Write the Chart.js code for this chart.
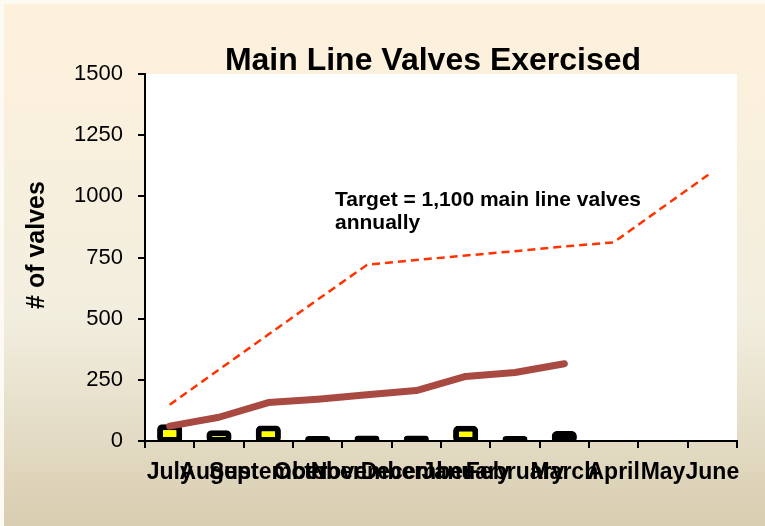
<!DOCTYPE html>
<html>
<head>
<meta charset="utf-8">
<script src="https://cdn.jsdelivr.net/npm/chart.js@4.4.0/dist/chart.umd.min.js"></script>
<style>
  html, body { margin: 0; padding: 0; background: #fdfaf3; }
  #wrap { position: absolute; left: 4px; top: 4px; width: 761px; height: 522px; }
</style>
</head>
<body>
<div id="wrap"><canvas id="valvesChart"></canvas></div>
<script>
/* ── DATA ─────────────────────────────────────────────────────── */
const months = ['July', 'August', 'September', 'October', 'November', 'December',
                'January', 'February', 'March', 'April', 'May', 'June'];
const monthlyExercised    = [68, 44, 63, 20, 22, 22, 62, 20, 41, null, null, null];
const cumulativeExercised = [61, 97, 157, 171, 189, 206, 264, 280, 316, null, null, null];
const targetCumulative    = [148, 292, 435, 578, 720, 740, 758, 776, 795, 812, 956, 1100];
const yMin = 0, yMax = 1500, yStep = 250;

const chartTitle = 'Main Line Valves Exercised';
const yTitle = '# of valves';
const noteLines = ['Target = 1,100 main line valves', 'annually'];

const FONT = "'Liberation Sans', Arial, sans-serif";

/* ── BACKGROUND, TITLES, NOTE ─────────────────────────────────── */
const slideDecor = {
  id: 'slideDecor',
  beforeDraw(chart) {
    const { ctx, chartArea: a, width, height } = chart;
    const g = ctx.createLinearGradient(0, 0, 0, height);
    g.addColorStop(0, '#fef1dc');
    g.addColorStop(0.6, '#f2eedf');
    g.addColorStop(1, '#d8cdb0');
    ctx.save();
    ctx.fillStyle = g;
    ctx.fillRect(0, 0, width, height);
    ctx.fillStyle = '#ffffff';
    ctx.fillRect(a.left, a.top, a.right - a.left, a.bottom - a.top);
    ctx.restore();
  },
  afterDraw(chart) {
    const { ctx, chartArea: a } = chart;
    ctx.save();
    ctx.fillStyle = '#000';
    ctx.textBaseline = 'alphabetic';
    ctx.textAlign = 'center';
    ctx.font = `bold 32px ${FONT}`;
    ctx.fillText(chartTitle, a.left + 288, a.top - 4);

    // y axis title, centred a bit above the middle like the slide
    ctx.save();
    ctx.translate(33, a.top + 171);
    ctx.rotate(-Math.PI / 2);
    ctx.textBaseline = 'middle';
    ctx.font = `bold 25px ${FONT}`;
    ctx.fillText(yTitle, 0, 0);
    ctx.restore();

    ctx.textAlign = 'left';
    ctx.font = `bold 21px ${FONT}`;
    ctx.fillText(noteLines[0], a.left + 190, a.top + 132);
    ctx.fillText(noteLines[1], a.left + 190, a.top + 155);
    ctx.restore();
  }
};

/* ── CHART ────────────────────────────────────────────────────── */
new Chart(document.getElementById('valvesChart'), {
  data: {
    labels: months,
    datasets: [
      {
        type: 'line',
        label: 'Cumulative',
        data: cumulativeExercised,
        borderColor: '#a84a42',
        borderWidth: 7,
        borderCapStyle: 'round',
        borderJoinStyle: 'round',
        pointRadius: 0,
        tension: 0,
        order: 1,
      },
      {
        type: 'line',
        label: 'Target',
        data: targetCumulative,
        borderColor: '#ff3300',
        borderWidth: 2.5,
        borderDash: [8, 5],
        pointRadius: 0,
        tension: 0,
        order: 2,
      },
      {
        type: 'bar',
        label: 'Monthly',
        data: monthlyExercised,
        backgroundColor: '#ffff00',
        borderColor: '#000000',
        borderWidth: 6,
        borderRadius: 5,
        borderSkipped: false,
        barPercentage: 0.51,
        categoryPercentage: 1,
        base: -8,
        order: 3,
      },
    ]
  },
  options: {
    responsive: true,
    maintainAspectRatio: false,
    animation: false,
    layout: { padding: { top: 70, right: 28, bottom: 0, left: 0 } },
    plugins: {
      legend: { display: false },
      tooltip: { enabled: false },
      title: { display: false },
    },
    scales: {
      x: {
        offset: true,
        grid: { offset: true, drawOnChartArea: false, drawTicks: true, tickLength: 7, color: '#000', lineWidth: 2 },
        border: { color: '#000', width: 2 },
        ticks: { color: '#000', font: { family: FONT, size: 23, weight: 'bold' }, padding: 11,
                 autoSkip: false, maxRotation: 0, minRotation: 0 },
        afterFit: s => { s.height = 85; },
      },
      y: {
        min: yMin,
        max: yMax,
        grid: { drawOnChartArea: false, drawTicks: true, tickLength: 7, color: '#000', lineWidth: 2 },
        border: { color: '#000', width: 2 },
        ticks: { stepSize: yStep, color: '#000', font: { family: FONT, size: 22 }, padding: 15,
                 callback: v => String(v) },
        afterFit: s => { s.width = 141; },
      }
    }
  },
  plugins: [slideDecor]
});
</script>
</body>
</html>
